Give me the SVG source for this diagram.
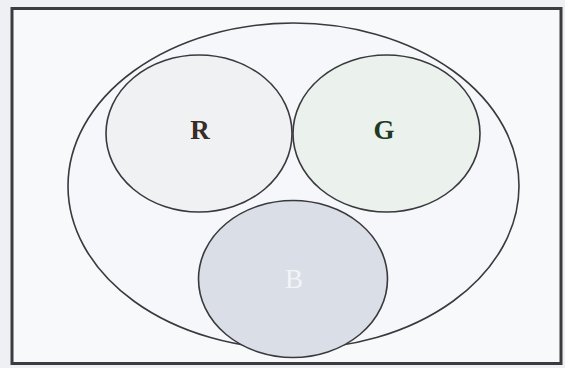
<svg xmlns="http://www.w3.org/2000/svg" width="565" height="368" viewBox="0 0 565 368">
<style>
.ell{stroke:#3a3a3e;stroke-width:1.6}
.lbl{font-family:"Liberation Serif","Times New Roman",serif;font-weight:bold;font-size:27px;text-anchor:middle}
</style>
<rect x="0" y="0" width="565" height="368" fill="#eef0f4"/>
<rect x="12" y="8.5" width="549" height="355" fill="#f8f9fb" stroke="#3c3c40" stroke-width="3"/>
<g id="outer"><ellipse class="ell" cx="293.5" cy="186" rx="225.5" ry="163" fill="#f6f7fa"/></g>
<g id="R"><ellipse class="ell" cx="199" cy="133.5" rx="93" ry="78.5" fill="#eff1f3" stroke="#3e3230"/><text class="lbl" x="200" y="139" fill="#3a2a26">R</text></g>
<g id="G"><ellipse class="ell" cx="386.5" cy="133.5" rx="93.5" ry="78.5" fill="#ebf1ec" stroke="#2f3a30"/><text class="lbl" x="384" y="139" fill="#1f3a24">G</text></g>
<g id="B"><ellipse class="ell" cx="293" cy="279" rx="94.5" ry="78.5" fill="#dadee6"/><text class="lbl" x="294" y="288" fill="#f2f4f8" style="font-weight:normal">B</text></g>
</svg>
